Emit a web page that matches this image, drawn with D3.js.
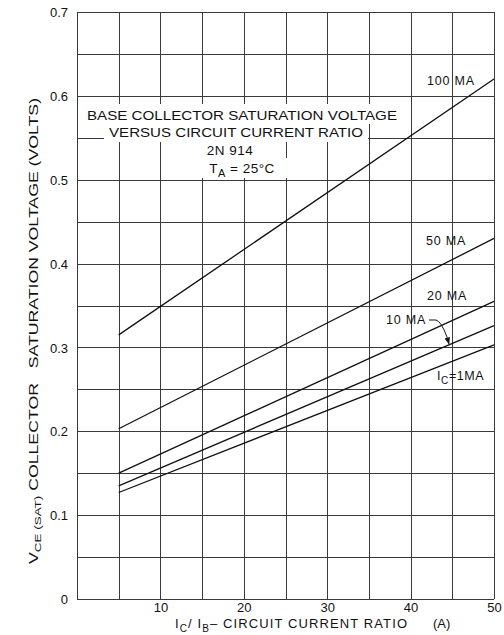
<!DOCTYPE html>
<html>
<head>
<meta charset="UTF-8">
<style>
  body { margin: 0; background: #fff; }
  svg { display: block; font-family: "Liberation Sans", Arial, sans-serif; }
  .grid line { stroke: #3a3a3a; stroke-width: 1; shape-rendering: crispEdges; }
  .grid path { display: none; }
  .lbl text { font-size: 13px; fill: #111; }
  .lbl path, .lbl line { display: none; }
  .curve { fill: none; stroke: #111; stroke-width: 1.3; }
  .note { font-size: 12.5px; fill: #111; }
</style>
</head>
<body>
<script src="https://cdn.jsdelivr.net/npm/d3@7"></script>
<script>
// data
var ratio = [5, 50];
var curveNames = ['100 MA', '50 MA', '20 MA', '10 MA', '1 MA'];
var vce100 = [0.315, 0.620];
var vce50 = [0.203, 0.430];
var vce20 = [0.150, 0.355];
var vce10 = [0.135, 0.326];
var vce1 = [0.127, 0.303];
var xTicks = [10, 20, 30, 40, 50];
var yTicks = [0, 0.1, 0.2, 0.3, 0.4, 0.5, 0.6, 0.7];

var W = 504, H = 635;
var svg = d3.select('body').append('svg').attr('width', W).attr('height', H);

var x = d3.scaleLinear().domain([0, 50]).range([77, 494]);
var y = d3.scaleLinear().domain([0, 0.7]).range([599, 12]);

// grid every 5 on x and 0.05 on y
svg.append('g').attr('class', 'grid')
    .attr('transform', 'translate(0,' + y(0) + ')')
    .call(d3.axisBottom(x).tickValues(d3.range(0, 51, 5)).tickSize(-(y(0) - y(0.7))).tickFormat(''));
svg.append('g').attr('class', 'grid')
    .attr('transform', 'translate(' + x(0) + ',0)')
    .call(d3.axisLeft(y).tickValues(d3.range(0, 15).map(function(i){ return i * 0.05; })).tickSize(-(x(50) - x(0))).tickFormat(''));

// tick labels
svg.append('g').attr('class', 'lbl')
    .attr('transform', 'translate(' + x(0) + ',0)')
    .call(d3.axisLeft(y).tickValues(yTicks).tickSize(0).tickPadding(9)
        .tickFormat(function(d){ return d === 0 ? '0' : d.toFixed(1); }))
    .selectAll('text').attr('dy', '0.36em');
svg.append('g').attr('class', 'lbl')
    .attr('transform', 'translate(0,' + y(0) + ')')
    .call(d3.axisBottom(x).tickValues(xTicks).tickSize(0).tickPadding(4).tickFormat(d3.format('d')))
    .selectAll('text').attr('dy', '0.71em');

// white patches behind the title block
var patches = [[83, 104, 318, 20], [104, 124, 264, 18], [196, 142, 64, 16], [196, 158, 92, 20]];
svg.selectAll('rect.patch').data(patches).enter().append('rect')
    .attr('x', function(d){ return d[0]; }).attr('y', function(d){ return d[1]; })
    .attr('width', function(d){ return d[2]; }).attr('height', function(d){ return d[3]; })
    .attr('fill', '#fff');

// curves
var series = [vce100, vce50, vce20, vce10, vce1];
var line = d3.line().x(function(d){ return x(d[0]); }).y(function(d){ return y(d[1]); });
svg.selectAll('path.curve').data(series).enter().append('path')
    .attr('class', 'curve')
    .attr('d', function(s){ return line(ratio.map(function(r, i){ return [r, s[i]]; })); });

// title block
var title = svg.append('g').attr('class', 'note').attr('text-anchor', 'middle').style('font-size', '13.5px');
title.append('text').attr('x', 242).attr('y', 120)
    .attr('textLength', 310).attr('lengthAdjust', 'spacingAndGlyphs')
    .text('BASE COLLECTOR SATURATION VOLTAGE');
title.append('text').attr('x', 236).attr('y', 137)
    .attr('textLength', 254).attr('lengthAdjust', 'spacingAndGlyphs')
    .text('VERSUS CIRCUIT CURRENT RATIO');
title.append('text').attr('x', 230).attr('y', 155).style('letter-spacing', '0.5px').text('2N 914');
var ta = title.append('text').attr('x', 242).attr('y', 173).style('letter-spacing', '0.5px');
ta.append('tspan').text('T');
ta.append('tspan').attr('dy', 4).style('font-size', '11px').text('A');
ta.append('tspan').attr('dy', -4).text(' = 25\u00b0C');

// curve labels
var labelPos = [[451, 85], [446, 245], [447, 300], [406, 324]];
svg.selectAll('text.cl').data(labelPos).enter().append('text')
    .attr('class', 'note cl').attr('text-anchor', 'middle').style('letter-spacing', '0.8px')
    .attr('x', function(d){ return d[0]; }).attr('y', function(d){ return d[1]; })
    .text(function(d, i){ return curveNames[i]; });

var ic = svg.append('text').attr('class', 'note').attr('x', 437).attr('y', 380).style('letter-spacing', '0.6px');
ic.append('tspan').text('I');
ic.append('tspan').attr('dy', 4).style('font-size', '10px').text('C');
ic.append('tspan').attr('dy', -4).text('=1' + curveNames[4].replace('1 ', ''));

// arrow from the 10 MA label
var tipX = 44.6;
var tip = [x(tipX), y(vce10[0] + (vce10[1] - vce10[0]) * (tipX - 5) / 45)];
svg.append('defs').append('marker').attr('id', 'ah')
    .attr('viewBox', '0 0 10 10').attr('refX', 9).attr('refY', 5)
    .attr('markerWidth', 7).attr('markerHeight', 7).attr('orient', 'auto')
    .append('path').attr('d', 'M0,1L10,5L0,9Z').attr('fill', '#111');
svg.append('path')
    .attr('d', 'M429,320L436,320Q441,321 ' + (tip[0] - 2) + ',' + (tip[1] - 8) + 'L' + tip[0] + ',' + (tip[1] - 1))
    .attr('fill', 'none').attr('stroke', '#111').attr('stroke-width', 1)
    .attr('marker-end', 'url(#ah)');

// axis titles
var xt = svg.append('text').attr('class', 'note').attr('x', 175).attr('y', 628).style('font-size', '13px')
    .attr('textLength', 232).attr('lengthAdjust', 'spacing');
xt.append('tspan').text('I');
xt.append('tspan').attr('dy', 4).style('font-size', '10px').text('C');
xt.append('tspan').attr('dy', -4).text('/ I');
xt.append('tspan').attr('dy', 4).style('font-size', '10px').text('B');
xt.append('tspan').attr('dy', -4).text('\u2013 CIRCUIT CURRENT RATIO');
svg.append('text').attr('class', 'note').attr('x', 433).attr('y', 628).style('font-size', '13px').text('(A)');

var yt = svg.append('text').attr('class', 'note')
    .attr('transform', 'translate(38,331) rotate(-90)')
    .attr('text-anchor', 'middle').style('font-size', '12.5px')
    .attr('textLength', 466).attr('lengthAdjust', 'spacingAndGlyphs');
yt.append('tspan').text('V');
yt.append('tspan').attr('dy', 3).style('font-size', '9.5px').text('CE (SAT)');
yt.append('tspan').attr('dy', -3).text(' COLLECTOR \u00a0 SATURATION VOLTAGE (VOLTS)');
</script>
</body>
</html>
